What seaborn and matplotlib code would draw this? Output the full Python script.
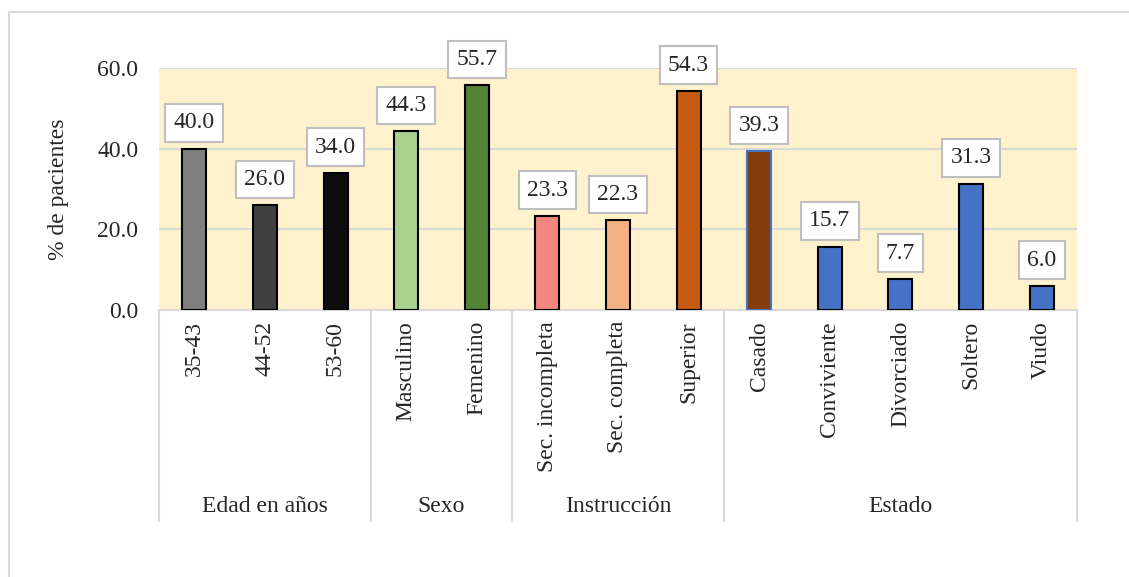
import matplotlib
matplotlib.use("Agg")
import matplotlib.pyplot as plt
import matplotlib.transforms as mtransforms
from matplotlib.lines import Line2D
import seaborn as sns

# datos
categorias = ["35-43", "44-52", "53-60", "Masculino", "Femenino",
              "Sec. incompleta", "Sec. completa", "Superior",
              "Casado", "Conviviente", "Divorciado", "Soltero", "Viudo"]
porcentajes = [40.0, 26.0, 34.0, 44.3, 55.7, 23.3, 22.3, 54.3,
               39.3, 15.7, 7.7, 31.3, 6.0]
colores = ["#7f7f7f", "#404040", "#0d0d0d", "#a9d18e", "#548235",
           "#f4877f", "#f4b183", "#c55a11",
           "#843c0c", "#4472c4", "#4472c4", "#4472c4", "#4472c4"]
grupos = ["Edad en años", "Sexo", "Instrucción", "Estado"]
tam_grupos = [3, 2, 3, 5]

sns.set_style("white")
plt.rcParams["font.family"] = ["Liberation Serif", "DejaVu Serif"]
fs = 17

fig = plt.figure(figsize=(11.29, 5.77), dpi=100)
ax = fig.add_axes([159/1129, 1 - 310/577, (1077-159)/1129, (310-68)/577])
ax.set_facecolor("#fff2cc")

sns.barplot(x=categorias, y=porcentajes, hue=categorias,
            palette=dict(zip(categorias, colores)), width=0.34,
            saturation=1, edgecolor="black", linewidth=1.5,
            legend=False, ax=ax, zorder=3)
# Casado tiene borde azul
ax.patches[8].set_edgecolor("#4472c4")

for cont in ax.containers:
    ax.bar_label(cont, fmt="%.1f", padding=11, fontsize=fs,
                 bbox=dict(boxstyle="square,pad=0.35", fc="white",
                           ec="#bfbfbf", lw=1.5))

ax.set_ylim(0, 60)
ax.set_xlim(-0.5, len(categorias) - 0.5)
ax.set_yticks([0, 20, 40, 60])
ax.set_yticklabels(["0.0", "20.0", "40.0", "60.0"], fontsize=fs)
ax.yaxis.grid(True, color="#d9d9d9", lw=1.5, zorder=0)
ax.set_axisbelow(True)
for s in ["left", "right", "top"]:
    ax.spines[s].set_visible(False)
ax.spines["bottom"].set_color("#d9d9d9")
ax.spines["bottom"].set_linewidth(1.5)
ax.tick_params(axis="both", length=0)
ax.tick_params(axis="y", pad=15)
ax.set_xticks(range(len(categorias)))
ax.set_xticklabels(categorias, rotation=90, fontsize=fs, va="top")
ax.tick_params(axis="x", pad=8)
ax.set_xlabel("")
ax.set_ylabel("% de pacientes", fontsize=fs, labelpad=20)

# separadores de grupo y nombres de grupo
trans = mtransforms.blended_transform_factory(ax.transData, ax.transAxes)
y_fin = (310 - 521) / 242
inicio = -0.5
ax.plot([inicio, inicio], [0, y_fin], color="#d9d9d9", lw=1.5,
        transform=trans, clip_on=False)
for g, n in zip(grupos, tam_grupos):
    fin = inicio + n
    ax.plot([fin, fin], [0, y_fin], color="#d9d9d9", lw=1.5,
            transform=trans, clip_on=False)
    ax.text((inicio + fin) / 2, (310 - 507) / 242, g, fontsize=fs,
            ha="center", va="center", transform=trans)
    inicio = fin

# borde del grafico
fig.add_artist(Line2D([9/1129, 9/1129], [0, 1 - 12/577],
                      color="#d9d9d9", lw=1.5))
fig.add_artist(Line2D([9/1129, 1], [1 - 12/577, 1 - 12/577],
                      color="#d9d9d9", lw=1.5))

fig.savefig("out.png", dpi=100)
